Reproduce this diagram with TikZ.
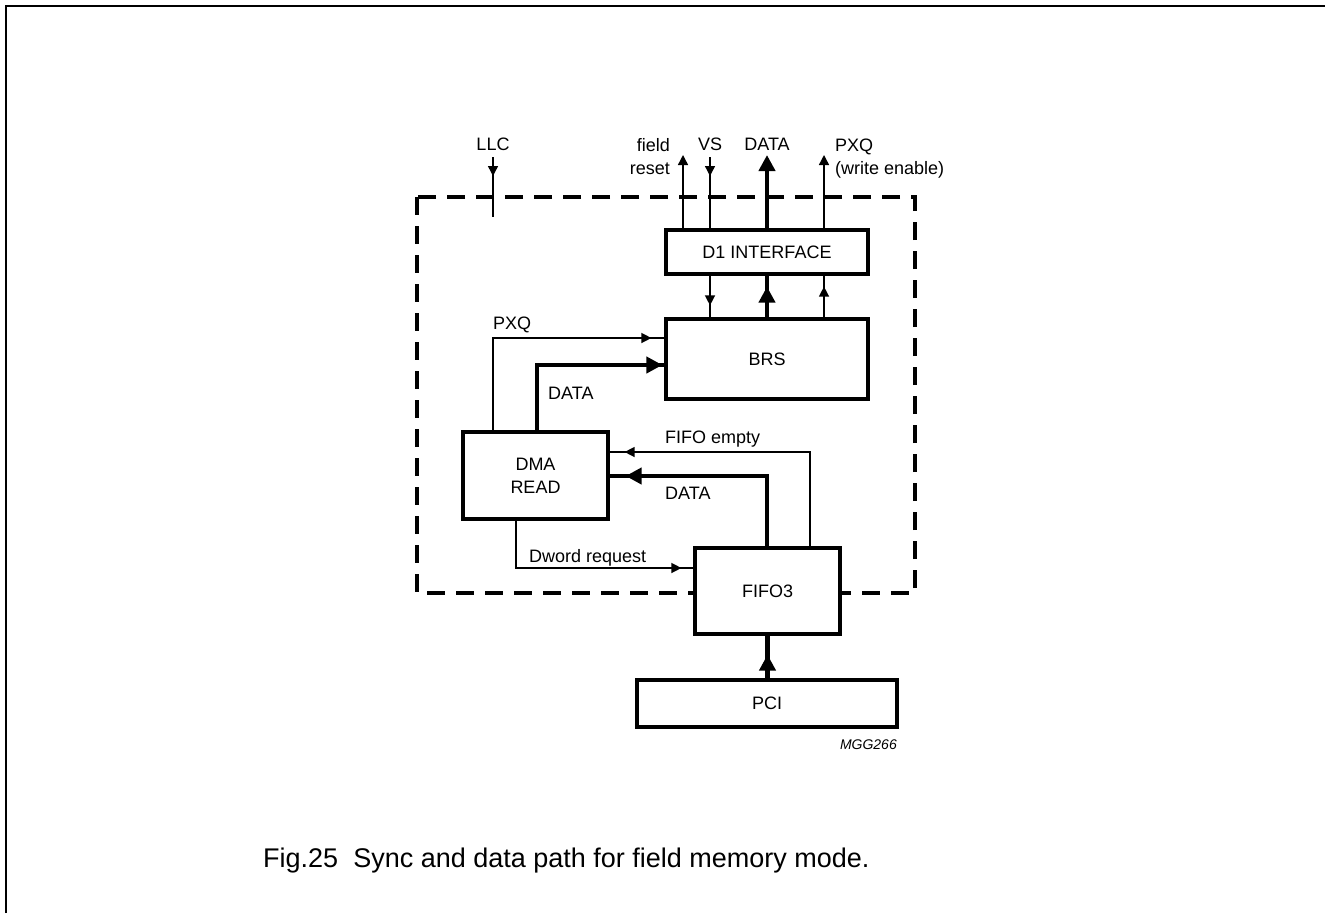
\documentclass[tikz,border=0pt]{standalone}
\usepackage{fontspec}
\setmainfont{Liberation Sans}
\usetikzlibrary{arrows.meta,decorations.markings}
\begin{document}
\begin{tikzpicture}[x=1pt,y=-1pt,
  box/.style={draw,line width=3.2pt,fill=white,inner sep=0pt,align=center,font=\fontsize{18}{23}\selectfont},
  lbl/.style={inner sep=0pt,font=\fontsize{18}{23}\selectfont},
  sig/.style={line width=1.4pt},
  bus/.style={line width=4.2pt},
  thinend/.style={-{Triangle[length=10pt,width=10pt]}},
  busend/.style={-{Triangle[length=16pt,width=16pt]}},
  tipat/.style={postaction={decorate,decoration={markings,mark=at position #1 with {\arrow{Triangle[length=10pt,width=10pt]}}}}},
  btipat/.style={postaction={decorate,decoration={markings,mark=at position #1 with {\arrow{Triangle[length=16pt,width=16pt]}}}}},
  dashbox/.style={draw,line width=3.2pt,dash pattern=on 18pt off 11pt}
]
\useasboundingbox (0,0) rectangle (1325,913);
% page frame
\draw[line width=2.2pt] (6,913) -- (6,6) -- (1325,6);

% dashed boundary
\draw[dashbox] (417,197) rectangle (915,593);

% blocks
\node[box,minimum width=202pt,minimum height=44pt] (d1) at (767,252) {D1 INTERFACE};
\node[box,minimum width=202pt,minimum height=80pt] (brs) at (767,359) {BRS};
\node[box,minimum width=145pt,minimum height=87pt] (dma) at (535.5,475.5) {DMA\\READ};
\node[box,minimum width=145pt,minimum height=86pt] (fifo) at (767.5,591) {FIFO3};
\node[box,minimum width=260pt,minimum height=47pt] (pci) at (767,703.5) {PCI};

% top signal labels
\node[lbl,anchor=base] (llcl) at (493,150.5) {LLC};
\node[lbl,anchor=base east,align=right] (frl) at (670,174.5) {field\\reset};
\node[lbl,anchor=base] (vsl) at (710,150.5) {VS};
\node[lbl,anchor=base] (dtl) at (767,150.5) {DATA};
\node[lbl,anchor=base west,align=left] (pxl) at (835,174.5) {PXQ\\(write enable)};

% top connectors
\coordinate (llc1) at (493,157);
\coordinate (llc2) at (493,217);
\draw[sig,tipat=19pt] (llc1) -- (llc2);
\coordinate (fr) at (683,155);
\draw[sig,thinend] (d1.north -| fr) -- (fr);
\coordinate (vs) at (710,157);
\draw[sig,tipat=19pt] (vs) -- (d1.north -| vs);
\coordinate (dt) at (767,155);
\draw[bus,busend] (d1.north) -- (dt);
\coordinate (px) at (824,155);
\draw[sig,thinend] (d1.north -| px) -- (px);

% D1 <-> BRS
\draw[sig,tipat=-12pt] (d1.south -| vs) -- (brs.north -| vs);
\draw[bus,btipat=-11pt] (brs.north) -- (d1.south);
\draw[sig,tipat=-11pt] (brs.north -| px) -- (d1.south -| px);

% DMA -> BRS
\coordinate (pxqy) at (493,338);
\draw[sig,tipat=-13pt] (dma.north -| pxqy) |- (brs.west |- pxqy);
\node[lbl,anchor=base west] (pxqm) at (493,329.5) {PXQ};
\coordinate (dty) at (537,365);
\draw[bus,btipat=-2pt] (dma.north -| dty) |- (brs.west |- dty);
\node[lbl,anchor=base west] (dtm) at (548,399.5) {DATA};

% FIFO -> DMA
\coordinate (fey) at (810,452);
\draw[sig,tipat=-15pt] (fifo.north -| fey) |- (dma.east |- fey);
\node[lbl,anchor=base west] (fel) at (665,443.5) {FIFO empty};
\coordinate (fdy) at (767,476);
\draw[bus,btipat=-16pt] (fifo.north -| fdy) |- (dma.east |- fdy);
\node[lbl,anchor=base west] (fdl) at (665,499) {DATA};

% DMA -> FIFO
\coordinate (dwy) at (516,568);
\draw[sig,tipat=-12pt] (dma.south -| dwy) |- (fifo.west |- dwy);
\node[lbl,anchor=base west] (dwl) at (529,562) {Dword request};

% PCI -> FIFO
\draw[bus,btipat=-19pt] (pci.north -| fifo.south) -- (fifo.south);

% code and caption
\node[inner sep=0pt,anchor=base east,font=\fontsize{14}{16}\selectfont\itshape] (code) at (897,749) {MGG266};
\node[inner sep=0pt,anchor=base west,font=\fontsize{27}{31}\selectfont] (cap) at (263,867) {Fig.25\hspace{0.28em} Sync and data path for field memory mode.};
\end{tikzpicture}
\end{document}
